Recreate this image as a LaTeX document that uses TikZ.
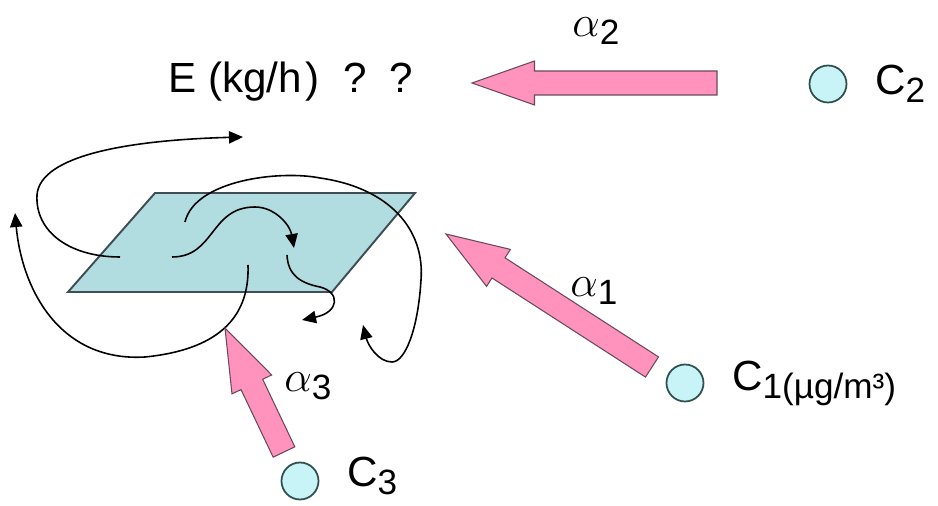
\documentclass[tikz,border=0pt]{standalone}
\usepackage{fontspec}
\setmainfont{Liberation Sans}
\usetikzlibrary{arrows.meta, positioning, calc}
\definecolor{platefill}{HTML}{B2DDE0}
\definecolor{plateedge}{HTML}{3E4E54}
\definecolor{fluxpink}{HTML}{FF93BE}
\definecolor{fluxedge}{HTML}{6A4A5A}
\definecolor{srcfill}{HTML}{C8F4F8}
\definecolor{srcedge}{HTML}{2F4F4F}

% lowered index, as in the sketch
\newcommand{\lowidx}[1]{\raisebox{-4.5pt}{\fontsize{20}{20}\selectfont #1}}
% block arrow from tail to tip
\def\shafthalf{0.24cm}
\def\headhalf{0.44cm}
\def\headlen{1.25cm}
\newcommand{\blockarrow}[2]{%
  \filldraw[flux]
    ($(#1)!\shafthalf!90:(#2)$) --
    ($(#2)!\headlen!(#1)!\shafthalf!-90:(#1)$) --
    ($(#2)!\headlen!(#1)!\headhalf!-90:(#1)$) --
    (#2) --
    ($(#2)!\headlen!(#1)!\headhalf!90:(#1)$) --
    ($(#2)!\headlen!(#1)!\shafthalf!90:(#1)$) --
    ($(#1)!\shafthalf!-90:(#2)$) -- cycle;}

\begin{document}
\begin{tikzpicture}[x=0.02cm, y=-0.02cm,
  big/.style={font=\fontsize{24}{28}\selectfont, inner sep=0pt},
  coef/.style={font=\fontsize{24}{28}\selectfont, inner sep=0pt, anchor=base west},
  source/.style={circle, draw=srcedge, fill=srcfill, line width=1pt,
                 minimum size=0.74cm, inner sep=0pt},
  flux/.style={fill=fluxpink, draw=fluxedge, line width=0.6pt, line join=miter},
  swirl/.style={-{Triangle[length=8pt,width=7pt]}, line width=0.9pt},
  node distance=0.55cm,
]
  \useasboundingbox (0,0) rectangle (938,506);

  % surface
  \filldraw[fill=platefill, draw=plateedge, line width=1.1pt]
    (155,193) -- (415,193) -- (332,292) -- (68,292) -- cycle;

  % turbulent transport
  \draw[swirl] (120,257) .. controls (70,257) and (35,232) .. (37,195)
               .. controls (40,155) and (130,140) .. (243,137);
  \draw[swirl] (172,257) .. controls (215,257) and (210,207) .. (255,207)
               .. controls (275,207) and (290,225) .. (294,248);
  \draw[swirl] (185,222) .. controls (195,180) and (280,170) .. (320,178)
               .. controls (390,188) and (425,230) .. (421,280)
               .. controls (418,330) and (405,362) .. (392,362)
               .. controls (378,362) and (368,345) .. (363,325);
  \draw[swirl] (287,255) .. controls (288,275) and (300,283) .. (320,287)
               .. controls (340,292) and (340,312) .. (302,320);
  \draw[swirl] (248,265) .. controls (250,320) and (215,350) .. (145,357)
               .. controls (60,362) and (22,290) .. (15,213);

  % emission
  \node[big, anchor=base west] (emis) at (168,93)
    {E (kg/h\kern2pt)\kern7pt\ ?\kern6pt\ ?};

  % receptors
  \node[source] (c2) at (828,84) {};
  \node[source] (c1) at (685,383) {};
  \node[source] (c3) at (300,481) {};
  \node[big, right=of c2] (c2lbl) {C\lowidx{2}};
  \node[big, right=of c1] (c1lbl) {C\lowidx{1(µg/m³)}};
  \node[big, right=of c3, yshift=3pt] (c3lbl) {C\lowidx{3}};

  % source-receptor coefficients
  \coordinate (t2) at (717,83);  \coordinate (h2) at (472,83);
  \coordinate (t1) at (652,367); \coordinate (h1) at (446,234);
  \coordinate (t3) at (284,452); \coordinate (h3) at (225,328);
  \blockarrow{t2}{h2}
  \blockarrow{t1}{h1}
  \blockarrow{t3}{h3}

  \node[coef] (a2) at (572,37) {$\alpha$\lowidx{2}};
  \node[coef] (a1) at (570,297) {$\alpha$\lowidx{1}};
  \node[coef] (a3) at (284,392) {$\alpha$\lowidx{3}};
\end{tikzpicture}
\end{document}
